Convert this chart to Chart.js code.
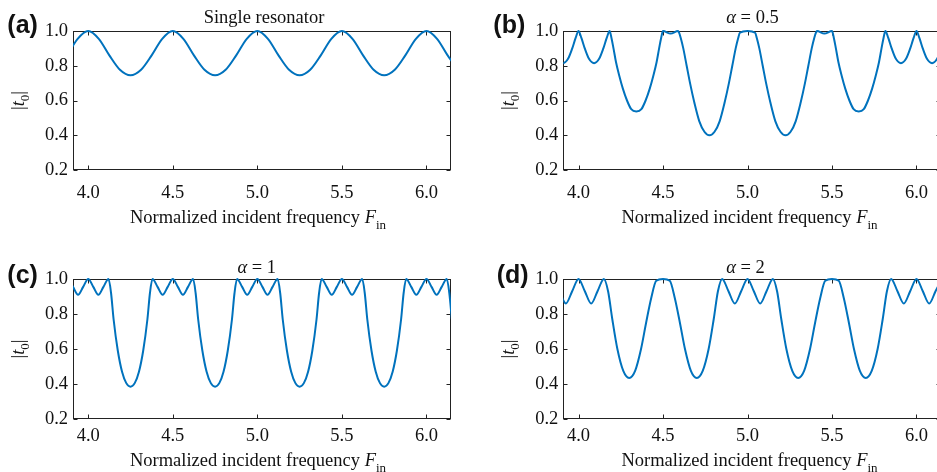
<!DOCTYPE html>
<html>
<head>
<meta charset="utf-8">
<script src="https://cdn.jsdelivr.net/npm/chart.js@4.4.1/dist/chart.umd.min.js"></script>
<style>
  html, body { margin: 0; padding: 0; background: #fff; overflow: hidden; width: 937px; height: 472px; }
  canvas { position: absolute; }
</style>
</head>
<body>
<canvas id="pa" width="470" height="236" style="left:0px;top:0px"></canvas>
<canvas id="pb" width="480" height="236" style="left:470px;top:0px"></canvas>
<canvas id="pc" width="470" height="236" style="left:0px;top:236px"></canvas>
<canvas id="pd" width="480" height="236" style="left:470px;top:236px"></canvas>
<script>
// axis ticks shared by all four panels
const xTicks = [4.0, 4.5, 5.0, 5.5, 6.0];
const yTicks = [0.2, 0.4, 0.6, 0.8, 1.0];
const xRange = [3.91, 6.145];
const yRange = [0.2, 1.0];

// (a) single resonator: frequency / |t0|
const fA = [3.875, 3.9375, 4.0, 4.0625, 4.125, 4.1875, 4.25, 4.3125, 4.375, 4.4375,
            4.5, 4.5625, 4.625, 4.6875, 4.75, 4.8125, 4.875, 4.9375, 5.0, 5.0625,
            5.125, 5.1875, 5.25, 5.3125, 5.375, 5.4375, 5.5, 5.5625, 5.625, 5.6875,
            5.75, 5.8125, 5.875, 5.9375, 6.0, 6.0625, 6.125, 6.1875];
const tA = [0.86, 0.955, 1.0, 0.955, 0.86, 0.777, 0.745, 0.777, 0.86, 0.955,
            1.0, 0.955, 0.86, 0.777, 0.745, 0.777, 0.86, 0.955, 1.0, 0.955,
            0.86, 0.777, 0.745, 0.777, 0.86, 0.955, 1.0, 0.955, 0.86, 0.777,
            0.745, 0.777, 0.86, 0.955, 1.0, 0.955, 0.86, 0.777];

// (b) alpha = 0.5
const fB = [3.816, 3.833, 3.853, 3.878, 3.908, 3.938, 3.963, 3.983,
            4.0, 4.017, 4.037, 4.062, 4.092, 4.122, 4.147, 4.167,
            4.184, 4.195, 4.207, 4.222, 4.242, 4.262, 4.287, 4.312, 4.342,
            4.372, 4.397, 4.422, 4.442, 4.462, 4.477, 4.489,
            4.5, 4.545, 4.589,
            4.595, 4.605, 4.62, 4.64, 4.66, 4.685, 4.715, 4.745, 4.775,
            4.805, 4.835, 4.865, 4.89, 4.91, 4.93, 4.945, 4.955,
            5.0,
            5.045, 5.055, 5.07, 5.09, 5.11, 5.135, 5.165, 5.195, 5.225,
            5.255, 5.285, 5.315, 5.34, 5.36, 5.38, 5.395, 5.405,
            5.411, 5.455, 5.5,
            5.511, 5.523, 5.538, 5.558, 5.578, 5.603, 5.628, 5.658,
            5.688, 5.713, 5.738, 5.758, 5.778, 5.793, 5.805,
            5.816, 5.833, 5.853, 5.878, 5.908, 5.938, 5.963, 5.983,
            6.0, 6.017, 6.037, 6.062, 6.092, 6.122, 6.147, 6.167, 6.184];
const tB = [1.0, 0.96, 0.90, 0.84, 0.815, 0.84, 0.90, 0.96,
            1.0, 0.96, 0.90, 0.84, 0.815, 0.84, 0.90, 0.96,
            1.0, 0.96, 0.90, 0.82, 0.74, 0.67, 0.60, 0.55, 0.537,
            0.55, 0.60, 0.67, 0.74, 0.82, 0.90, 0.96,
            1.0, 0.985, 1.0,
            0.99, 0.96, 0.90, 0.80, 0.70, 0.59, 0.48, 0.42, 0.40,
            0.42, 0.48, 0.59, 0.70, 0.80, 0.90, 0.96, 0.99,
            1.0,
            0.99, 0.96, 0.90, 0.80, 0.70, 0.59, 0.48, 0.42, 0.40,
            0.42, 0.48, 0.59, 0.70, 0.80, 0.90, 0.96, 0.99,
            1.0, 0.985, 1.0,
            0.96, 0.90, 0.82, 0.74, 0.67, 0.60, 0.55, 0.537,
            0.55, 0.60, 0.67, 0.74, 0.82, 0.90, 0.96,
            1.0, 0.96, 0.90, 0.84, 0.815, 0.84, 0.90, 0.96,
            1.0, 0.96, 0.90, 0.84, 0.815, 0.84, 0.90, 0.96, 1.0];

// (c) alpha = 1
const fC = [3.88, 3.91, 3.94, 3.97, 4.0, 4.03, 4.06, 4.09, 4.12,
            4.135, 4.15, 4.175, 4.2, 4.225, 4.25, 4.275, 4.3, 4.325, 4.35, 4.365,
            4.38, 4.41, 4.44, 4.47, 4.5, 4.53, 4.56, 4.59, 4.62,
            4.635, 4.65, 4.675, 4.7, 4.725, 4.75, 4.775, 4.8, 4.825, 4.85, 4.865,
            4.88, 4.91, 4.94, 4.97, 5.0, 5.03, 5.06, 5.09, 5.12,
            5.135, 5.15, 5.175, 5.2, 5.225, 5.25, 5.275, 5.3, 5.325, 5.35, 5.365,
            5.38, 5.41, 5.44, 5.47, 5.5, 5.53, 5.56, 5.59, 5.62,
            5.635, 5.65, 5.675, 5.7, 5.725, 5.75, 5.775, 5.8, 5.825, 5.85, 5.865,
            5.88, 5.91, 5.94, 5.97, 6.0, 6.03, 6.06, 6.09, 6.12,
            6.135, 6.15];
const tC = [1.0, 0.955, 0.91, 0.955, 1.0, 0.955, 0.91, 0.955, 1.0,
            0.92, 0.77, 0.59, 0.47, 0.405, 0.385, 0.405, 0.47, 0.59, 0.77, 0.92,
            1.0, 0.955, 0.91, 0.955, 1.0, 0.955, 0.91, 0.955, 1.0,
            0.92, 0.77, 0.59, 0.47, 0.405, 0.385, 0.405, 0.47, 0.59, 0.77, 0.92,
            1.0, 0.955, 0.91, 0.955, 1.0, 0.955, 0.91, 0.955, 1.0,
            0.92, 0.77, 0.59, 0.47, 0.405, 0.385, 0.405, 0.47, 0.59, 0.77, 0.92,
            1.0, 0.955, 0.91, 0.955, 1.0, 0.955, 0.91, 0.955, 1.0,
            0.92, 0.77, 0.59, 0.47, 0.405, 0.385, 0.405, 0.47, 0.59, 0.77, 0.92,
            1.0, 0.955, 0.91, 0.955, 1.0, 0.955, 0.91, 0.955, 1.0,
            0.92, 0.77];

// (d) alpha = 2
const fD = [3.85, 3.8875, 3.925, 3.9625, 4.0, 4.0375, 4.075, 4.1125, 4.15,
            4.175, 4.2, 4.23, 4.265, 4.3, 4.335, 4.37, 4.4, 4.43, 4.46,
            4.5, 4.54, 4.57, 4.6, 4.63, 4.665, 4.7, 4.735, 4.77, 4.8, 4.825,
            4.85, 4.8875, 4.925, 4.9625, 5.0, 5.0375, 5.075, 5.1125, 5.15,
            5.175, 5.2, 5.23, 5.265, 5.3, 5.335, 5.37, 5.4, 5.43, 5.46,
            5.5, 5.54, 5.57, 5.6, 5.63, 5.665, 5.7, 5.735, 5.77, 5.8, 5.825,
            5.85, 5.8875, 5.925, 5.9625, 6.0, 6.0375, 6.075, 6.1125, 6.15];
const tD = [1.0, 0.93, 0.86, 0.93, 1.0, 0.93, 0.86, 0.93, 1.0,
            0.93, 0.77, 0.60, 0.475, 0.435, 0.475, 0.60, 0.75, 0.89, 0.99,
            1.0, 0.99, 0.89, 0.75, 0.60, 0.475, 0.435, 0.475, 0.60, 0.77, 0.93,
            1.0, 0.93, 0.86, 0.93, 1.0, 0.93, 0.86, 0.93, 1.0,
            0.93, 0.77, 0.60, 0.475, 0.435, 0.475, 0.60, 0.75, 0.89, 0.99,
            1.0, 0.99, 0.89, 0.75, 0.60, 0.475, 0.435, 0.475, 0.60, 0.77, 0.93,
            1.0, 0.93, 0.86, 0.93, 1.0, 0.93, 0.86, 0.93, 1.0];

const SERIF = '"Liberation Serif", "Times New Roman", serif';
const SANS = '"Liberation Sans", Arial, sans-serif';
const BLUE = '#0072bd';
const FS = 18.5;

function f(size, style) { return (style ? style + ' ' : '') + size + 'px ' + SERIF; }

// pieces: [text, font, dy]
function drawRich(ctx, pieces, x, y) {
    let w = 0;
    pieces.forEach(p => { ctx.font = p[1]; w += ctx.measureText(p[0]).width; });
    let cx = x - w / 2;
    pieces.forEach(p => {
        ctx.font = p[1];
        ctx.fillText(p[0], cx, y + (p[2] || 0));
        cx += ctx.measureText(p[0]).width;
    });
}

const xTitle = [['Normalized incident frequency ', f(FS)], ['F', f(FS, 'italic')], ['in', f(13), 6]];
const yTitle = [['|', f(FS)], ['t', f(FS, 'italic')], ['0', f(13), 5], ['|', f(FS)]];

const panels = [
    { id: 'pa', f: fA, t: tA, letter: '(a)', title: [['Single resonator', f(FS)]],
      top: 31, right: 19, yw: 73, xh: 66, pad: 12,
      lx: 7.3, ly: 33.3, tx: 264, ty: 22.7, xtx: 258, xty: 222.7 },
    { id: 'pb', f: fB, t: tB, letter: '(b)', title: [['\u03b1', f(FS, 'italic')], [' = 0.5', f(FS)]],
      top: 31, right: 9, yw: 93.3, xh: 66, pad: 12,
      lx: 23.3, ly: 33.3, tx: 282.5, ty: 23.3, xtx: 279.5, xty: 222.7 },
    { id: 'pc', f: fC, t: tC, letter: '(c)', title: [['\u03b1', f(FS, 'italic')], [' = 1', f(FS)]],
      top: 43, right: 19, yw: 73, xh: 53, pad: 6,
      lx: 7.3, ly: 46.7, tx: 256.7, ty: 37.3, xtx: 258, xty: 230 },
    { id: 'pd', f: fD, t: tD, letter: '(d)', title: [['\u03b1', f(FS, 'italic')], [' = 2', f(FS)]],
      top: 43, right: 9, yw: 93.3, xh: 53, pad: 6,
      lx: 26.7, ly: 46.7, tx: 275.5, ty: 37.3, xtx: 279.5, xty: 230 }
];

// box with inward ticks on all four sides
const framePlugin = {
    id: 'frame',
    beforeDatasetsDraw(chart) {
        const { ctx, chartArea: a, scales: { x, y } } = chart;
        const L = Math.round(a.left) + 0.5, R = Math.round(a.right) - 0.5;
        const T = Math.round(a.top) + 0.5, B = Math.round(a.bottom) - 0.5;
        ctx.save();
        ctx.strokeStyle = '#222';
        ctx.lineWidth = 1;
        ctx.strokeRect(L, T, R - L, B - T);
        ctx.beginPath();
        xTicks.forEach(v => {
            const px = Math.round(x.getPixelForValue(v)) + 0.5;
            ctx.moveTo(px, B); ctx.lineTo(px, B - 4);
            ctx.moveTo(px, T); ctx.lineTo(px, T + 4);
        });
        yTicks.forEach(v => {
            const py = Math.round(y.getPixelForValue(v)) + 0.5;
            ctx.moveTo(L, py); ctx.lineTo(L + 4, py);
            ctx.moveTo(R, py); ctx.lineTo(R - 4, py);
        });
        ctx.stroke();
        ctx.restore();
    }
};

// panel letter, title and axis titles
const textPlugin = {
    id: 'texts',
    afterDraw(chart) {
        const p = chart.options.plugins.texts.panel;
        const { ctx, chartArea: a } = chart;
        ctx.save();
        ctx.fillStyle = '#111';
        ctx.textBaseline = 'alphabetic';
        ctx.textAlign = 'left';
        ctx.font = 'bold 25px ' + SANS;
        ctx.fillText(p.letter, p.lx, p.ly);
        drawRich(ctx, p.title, p.tx, p.ty);
        drawRich(ctx, xTitle, p.xtx, p.xty);
        ctx.translate(a.left - 49.5, (a.top + a.bottom) / 2);
        ctx.rotate(-Math.PI / 2);
        drawRich(ctx, yTitle, 0, 0);
        ctx.restore();
    }
};

panels.forEach(p => {
    new Chart(document.getElementById(p.id), {
        type: 'line',
        data: {
            datasets: [{
                data: p.f.map((v, i) => ({ x: v, y: p.t[i] })),
                borderColor: BLUE,
                borderWidth: 2,
                pointRadius: 0,
                cubicInterpolationMode: 'monotone',
                clip: { left: 0, right: 0, top: 3, bottom: 0 }
            }]
        },
        options: {
            responsive: false,
            animation: false,
            devicePixelRatio: 1,
            events: [],
            layout: { padding: { top: p.top, right: p.right, left: 0, bottom: 0 } },
            plugins: {
                legend: { display: false },
                tooltip: { enabled: false },
                texts: { panel: p }
            },
            scales: {
                x: {
                    type: 'linear', min: xRange[0], max: xRange[1],
                    grid: { display: false, drawTicks: false },
                    border: { display: false },
                    afterBuildTicks: s => { s.ticks = xTicks.map(v => ({ value: v })); },
                    afterFit: s => { s.height = p.xh; },
                    ticks: { color: '#111', padding: p.pad, maxRotation: 0, autoSkip: false,
                             font: { family: SERIF, size: FS }, callback: v => v.toFixed(1) }
                },
                y: {
                    type: 'linear', min: yRange[0], max: yRange[1],
                    grid: { display: false, drawTicks: false },
                    border: { display: false },
                    afterBuildTicks: s => { s.ticks = yTicks.map(v => ({ value: v })); },
                    afterFit: s => { s.width = p.yw; },
                    ticks: { color: '#111', padding: 5, autoSkip: false,
                             font: { family: SERIF, size: FS }, callback: v => v.toFixed(1) }
                }
            }
        },
        plugins: [framePlugin, textPlugin]
    });
});
</script>
</body>
</html>
